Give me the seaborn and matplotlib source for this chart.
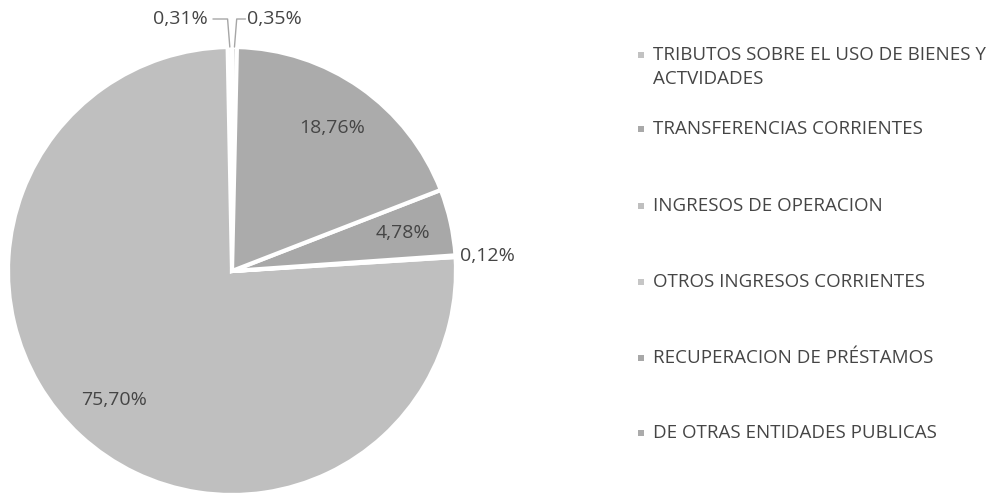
import numpy as np
import matplotlib
matplotlib.use("Agg")
import matplotlib.pyplot as plt
import seaborn as sns
from matplotlib.patches import Rectangle

# data (legend order)
categorias = [
    "TRIBUTOS SOBRE EL USO DE BIENES Y\nACTVIDADES",
    "TRANSFERENCIAS CORRIENTES",
    "INGRESOS DE OPERACION",
    "OTROS INGRESOS CORRIENTES",
    "RECUPERACION DE PRÉSTAMOS",
    "DE OTRAS ENTIDADES PUBLICAS",
]
porcentajes = [0.35, 0.31, 75.70, 0.12, 4.78, 18.76]
etiquetas = ["0,35%", "0,31%", "75,70%", "0,12%", "4,78%", "18,76%"]
colores = ["#c2c2c2", "#a9a9a9", "#bfbfbf", "#c6c6c6", "#a8a8a8", "#ababab"]

sns.set_style("white")
plt.rcParams["font.family"] = ["Open Sans", "DejaVu Sans"]
txt_color = "#454545"
pct_size = 14
leg_size = 13.5

W, H = 993, 494
fig = plt.figure(figsize=(W / 100, H / 100), dpi=100)
fig.patch.set_facecolor("white")

# pie axes: centre (232, 271) px from top, radius 224 px
cx, cy, r = 232, 271, 224
ax = fig.add_axes([(cx - r) / W, (H - cy - r) / H, 2 * r / W, 2 * r / H])
start = 90 - porcentajes[0] * 3.6
wedges, _ = ax.pie(porcentajes, colors=colores, startangle=start, counterclock=True,
                   radius=1, wedgeprops=dict(edgecolor="white", linewidth=3))
ax.set_xlim(-1, 1)
ax.set_ylim(-1, 1)
ax.set_aspect("equal")
ax.axis("off")

# labels inside the big slices
for w, lab, p in zip(wedges, etiquetas, porcentajes):
    mid = np.deg2rad((w.theta1 + w.theta2) / 2)
    if p > 2:
        ax.text(0.78 * np.cos(mid), 0.78 * np.sin(mid), lab, ha="center", va="center",
                fontsize=pct_size, color=txt_color)

# small slices: labels outside with leader lines
def mid_point(w, rad=1.0):
    m = np.deg2rad((w.theta1 + w.theta2) / 2)
    return rad * np.cos(m), rad * np.sin(m)

x0, y0 = mid_point(wedges[0])
ax.plot([x0, x0 + 0.01, 0.06], [y0, 1.125, 1.125], color="#a6a6a6", lw=1, clip_on=False)
ax.text(0.065, 1.125, etiquetas[0], ha="left", va="center", fontsize=pct_size, color=txt_color)

x1, y1 = mid_point(wedges[1])
ax.plot([x1, x1 - 0.01, -0.085], [y1, 1.125, 1.125], color="#a6a6a6", lw=1, clip_on=False)
ax.text(-0.11, 1.125, etiquetas[1], ha="right", va="center", fontsize=pct_size, color=txt_color)

x3, y3 = mid_point(wedges[3])
ax.text(1.02, y3, etiquetas[3], ha="left", va="center", fontsize=pct_size, color=txt_color)

# legend drawn by hand
ys = [55, 129, 206, 282, 358, 433]
for lab, col, y in zip(categorias, colores, ys):
    fig.patches.append(Rectangle((638 / W, (H - y - 3) / H), 6 / W, 6 / H,
                                 transform=fig.transFigure, facecolor=col, edgecolor="none"))
    fig.text(653 / W, (H - y + 9) / H if "\n" in lab else (H - y) / H, lab, ha="left",
             va="top" if "\n" in lab else "center",
             fontsize=leg_size, color=txt_color, linespacing=1.45,
             transform=fig.transFigure)

fig.savefig("out.png", dpi=100)
